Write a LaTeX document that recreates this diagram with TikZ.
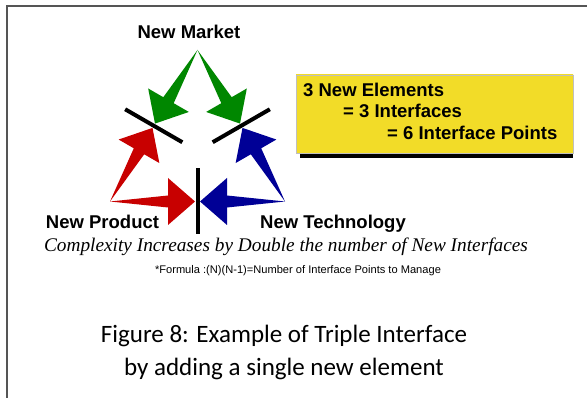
\documentclass[tikz,border=0pt]{standalone}
\usepackage{fontspec}
\usetikzlibrary{calc}
\newfontfamily\labelfont{Liberation Sans}
\newfontfamily\noteserif{Liberation Serif}
\newfontfamily\capfont{Carlito}
\definecolor{mkgreen}{RGB}{0,135,0}
\definecolor{prred}{RGB}{200,0,0}
\definecolor{teblue}{RGB}{0,0,150}
\definecolor{boxyellow}{RGB}{242,220,40}
\definecolor{boxpale}{RGB}{250,244,170}
\definecolor{framegray}{RGB}{85,85,85}

% tapered arrow: point tail #1, tip #2, colour #3
\newcommand\wedgearrow[3]{%
  \coordinate (hb) at ($(#2)!27pt!(#1)$);
  \fill[#3] (#1) -- ($(hb)!6pt!90:(#2)$) -- ($(hb)!23.5pt!90:(#2)$) -- (#2)
    -- ($(hb)!23.5pt!-90:(#2)$) -- ($(hb)!6pt!-90:(#2)$) -- cycle;}

\begin{document}
\begin{tikzpicture}[x=1pt,y=-1pt,
  lbl/.style={font=\labelfont\bfseries\fontsize{18.5}{21}\selectfont, inner sep=0pt},
  barline/.style={line width=4pt, black},
  notebox/.style={minimum width=277pt, minimum height=78pt, inner sep=0pt,
    top color=boxyellow, middle color=boxpale, bottom color=boxyellow,
    draw=black!25, line width=0.5pt}]
\useasboundingbox (0,0) rectangle (587,398);
\fill[white] (0,0) rectangle (587,398);

% page frame
\draw[framegray, line width=2pt] (587,6) -- (7,6) -- (7,398);

% the three elements and the interfaces between them
\coordinate (mk) at (197.5,50);
\coordinate (pr) at (110,201.5);
\coordinate (te) at (285,201.5);
\coordinate (ctr) at (197.5,151);
\coordinate (ml) at ($(mk)!0.5!(pr)$);
\coordinate (mr) at ($(mk)!0.5!(te)$);
\coordinate (mb) at ($(pr)!0.5!(te)$);

\coordinate (gl) at ($(ml)!2.5pt!(mk)$);
\coordinate (gr) at ($(mr)!2.5pt!(mk)$);
\coordinate (rl) at ($(ml)!2.5pt!(pr)$);
\coordinate (rb) at ($(mb)!2.5pt!(pr)$);
\coordinate (bb) at ($(mb)!2.5pt!(te)$);
\coordinate (br) at ($(mr)!2.5pt!(te)$);

\wedgearrow{mk}{gl}{mkgreen}
\wedgearrow{mk}{gr}{mkgreen}
\wedgearrow{pr}{rl}{prred}
\wedgearrow{pr}{rb}{prred}
\wedgearrow{te}{bb}{teblue}
\wedgearrow{te}{br}{teblue}

\draw[barline] ($(ml)!33pt!(ctr)$) -- ($(ml)!-33pt!(ctr)$);
\draw[barline] ($(mr)!33pt!(ctr)$) -- ($(mr)!-33pt!(ctr)$);
\draw[barline] ($(mb)!33pt!(ctr)$) -- ($(mb)!-33pt!(ctr)$);

\node[lbl, anchor=base] (nm) at (189,38.5) {New Market};
\node[lbl, anchor=base] (np) at (102.5,229) {New Product};
\node[lbl, anchor=base] (nt) at (333,229) {New Technology};

% summary box
\fill[black] (300,152) rectangle (573,158.5);
\node[notebox] (sum) at (434.5,114) {};
\node[lbl, anchor=base west] (s1) at (303,97) {3 New Elements};
\node[lbl, anchor=base west] (s2) at (343,118) {= 3 Interfaces};
\node[lbl, anchor=base west] (s3) at (387,140) {= 6 Interface Points};

% notes and caption
\node[anchor=base, inner sep=0pt, font=\noteserif\itshape\fontsize{19.3}{22}\selectfont] (cx) at (286,252)
  {Complexity Increases by Double the number of New Interfaces};
\node[anchor=base, inner sep=0pt, font=\labelfont\fontsize{11.1}{13}\selectfont] (fm) at (298,273.5)
  {*Formula :(N)(N-1)=Number of Interface Points to Manage};
\node[anchor=base, inner sep=0pt, font=\capfont\fontsize{25}{30}\selectfont] (c1) at (284,343)
  {Figure 8: Example of Triple Interface};
\node[anchor=base, inner sep=0pt, font=\capfont\fontsize{25}{30}\selectfont] (c2) at (284,376)
  {by adding a single new element};
\end{tikzpicture}
\end{document}
